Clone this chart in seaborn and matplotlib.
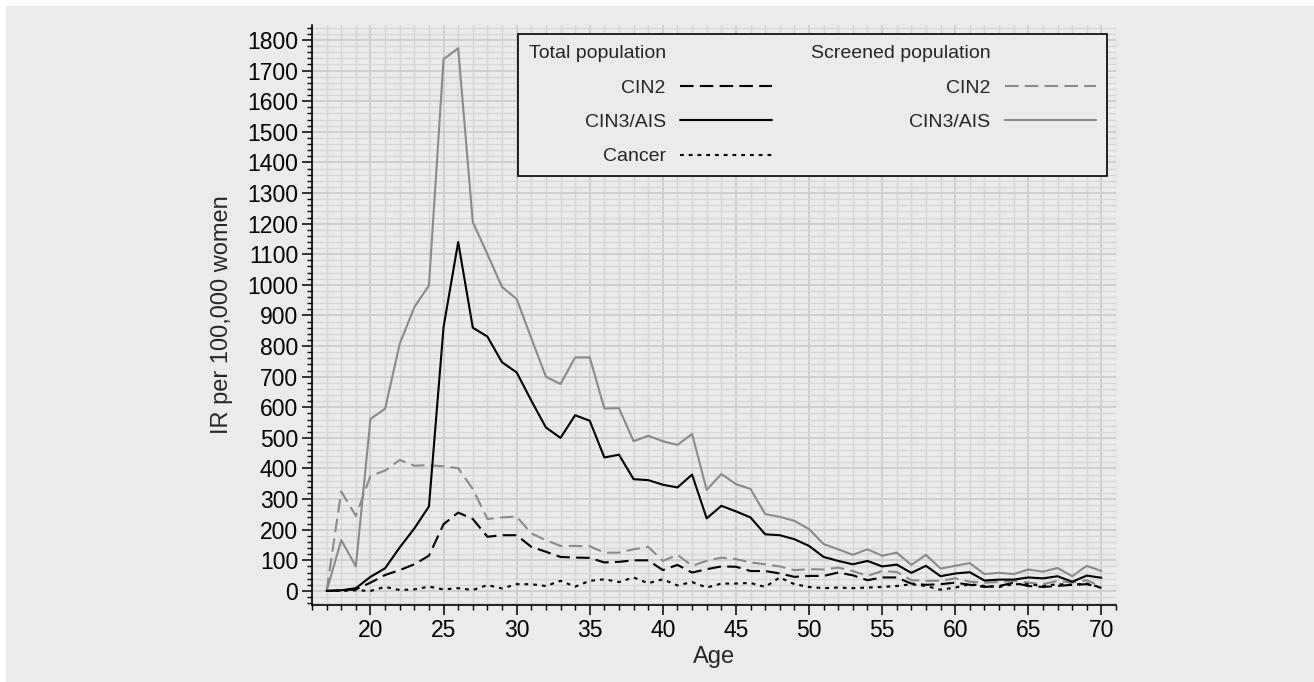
import numpy as np
import pandas as pd
import seaborn as sns
import matplotlib
matplotlib.use("Agg")
import matplotlib.pyplot as plt
from matplotlib.lines import Line2D
from matplotlib.patches import Rectangle
from matplotlib.ticker import MultipleLocator

# ---- data ----
ages = list(range(17, 71))

total_cin2 = [0, 2, 5, 27, 52, 68, 87, 115, 218, 256, 235, 177, 182, 182, 144, 128, 111, 109,
              108, 93, 95, 100, 100, 68, 85, 60, 71, 80, 79, 65, 65, 57, 46, 49, 49, 60, 51, 35,
              44, 44, 24, 20, 22, 27, 20, 13, 16, 27, 16, 13, 16, 20, 22, 10]
total_cin3 = [0, 2, 9, 46, 74, 142, 204, 276, 862, 1140, 860, 831, 747, 714, 622, 534, 500, 574,
              556, 436, 445, 365, 362, 347, 338, 380, 237, 278, 260, 240, 185, 182, 169, 147, 111,
              98, 87, 98, 80, 86, 59, 82, 48, 57, 61, 34, 37, 37, 44, 41, 48, 30, 50, 43]
total_cancer = [0, 0, 2, 0, 13, 3, 5, 14, 5, 9, 3, 19, 8, 22, 22, 16, 33, 14, 33, 38, 29, 44, 25,
                38, 18, 29, 11, 24, 24, 26, 13, 44, 22, 13, 9, 11, 9, 11, 13, 16, 22, 16, 4, 11,
                22, 16, 13, 22, 22, 16, 22, 20, 24, 11]
screened_cin2 = [0, 325, 245, 376, 393, 428, 409, 411, 407, 401, 333, 235, 240, 243, 188, 166,
                 147, 147, 146, 125, 125, 136, 144, 98, 118, 82, 98, 109, 104, 93, 87, 80, 68, 71,
                 70, 76, 65, 49, 65, 62, 35, 33, 33, 41, 30, 27, 29, 33, 27, 22, 33, 27, 35, 13]
screened_cin3 = [0, 166, 80, 562, 595, 807, 927, 998, 1737, 1773, 1205, 1100, 993, 954, 826, 700,
                 676, 763, 763, 596, 597, 489, 507, 489, 477, 513, 330, 382, 349, 333, 251, 242,
                 229, 202, 153, 136, 118, 136, 115, 125, 85, 118, 73, 82, 91, 55, 59, 55, 70, 63,
                 75, 48, 82, 65]

legend_labels_total = ["Total population", "CIN2", "CIN3/AIS", "Cancer"]
legend_labels_screened = ["Screened population", "CIN2", "CIN3/AIS", ""]

# ---- style ----
BG = "#ebebeb"
GRAY = "#8a8a8a"
sns.set_style("ticks")
plt.rcParams["font.family"] = ["Liberation Sans", "DejaVu Sans"]
plt.rcParams["axes.unicode_minus"] = False

fig = plt.figure(figsize=(13.14, 6.82), dpi=100, facecolor="white")
W, H = 1314, 682
fig.patches.append(Rectangle((6 / W, 0), 1, 1 - 6 / H, transform=fig.transFigure,
                             facecolor=BG, edgecolor="none", zorder=-10))

ax = fig.add_axes([312 / W, 1 - 605 / H, 804 / W, 580 / H])
ax.set_facecolor(BG)

lw = 1.5
styles = {
    "tc2": dict(color="black", linestyle=(0, (6.5, 3.0))),
    "tc3": dict(color="black", linestyle="-"),
    "can": dict(color="black", linestyle=(0, (1.8, 2.4))),
    "sc2": dict(color=GRAY, linestyle=(0, (6.5, 3.0))),
    "sc3": dict(color=GRAY, linestyle="-"),
}
series = [("sc3", screened_cin3), ("sc2", screened_cin2), ("tc3", total_cin3),
          ("tc2", total_cin2), ("can", total_cancer)]
for key, vals in series:
    sns.lineplot(x=ages, y=vals, ax=ax, legend=False, linewidth=lw, zorder=3, **styles[key])

ax.set_xlim(16, 71)
ax.set_ylim(-46, 1849)
ax.xaxis.set_major_locator(MultipleLocator(5))
ax.xaxis.set_minor_locator(MultipleLocator(1))
ax.yaxis.set_major_locator(MultipleLocator(100))
ax.yaxis.set_minor_locator(MultipleLocator(20))
ax.set_xticks(range(20, 71, 5))

ax.grid(which="minor", color="#d7d7d7", linewidth=1.0, zorder=0)
ax.grid(which="major", color="#cdcdcd", linewidth=1.3, zorder=0)
ax.set_axisbelow(True)

for s in ["top", "right"]:
    ax.spines[s].set_visible(False)
for s in ["left", "bottom"]:
    ax.spines[s].set_color("black")
    ax.spines[s].set_linewidth(1.2)

ax.tick_params(axis="both", which="major", direction="out", length=7, width=1.1,
               colors="black", labelsize=16.5, pad=3)
ax.tick_params(axis="both", which="minor", direction="out", length=3.5, width=1.0,
               colors="black")

ax.set_xlabel("Age", fontsize=17, labelpad=3)
ax.set_ylabel("IR per 100,000 women", fontsize=17, labelpad=10)

blank = Line2D([], [], color="none")
handles = [blank,
           Line2D([], [], linewidth=lw, **styles["tc2"]),
           Line2D([], [], linewidth=lw, **styles["tc3"]),
           Line2D([], [], linewidth=lw, **styles["can"]),
           blank,
           Line2D([], [], linewidth=lw, **styles["sc2"]),
           Line2D([], [], linewidth=lw, **styles["sc3"]),
           blank]
labels = legend_labels_total + legend_labels_screened
leg = ax.legend(handles, labels, ncol=2, markerfirst=False, loc="upper right",
                bbox_to_anchor=((1107 - 312) / 804, (605 - 34) / 580), borderaxespad=0,
                fontsize=14, frameon=True, fancybox=False, shadow=False, framealpha=1,
                facecolor=BG, edgecolor="black", handlelength=4.7, handletextpad=0.75,
                columnspacing=2.0, labelspacing=0.86, borderpad=0.55)
leg.get_frame().set_linewidth(1.2)

fig.savefig("out.png", dpi=100, facecolor=fig.get_facecolor())
